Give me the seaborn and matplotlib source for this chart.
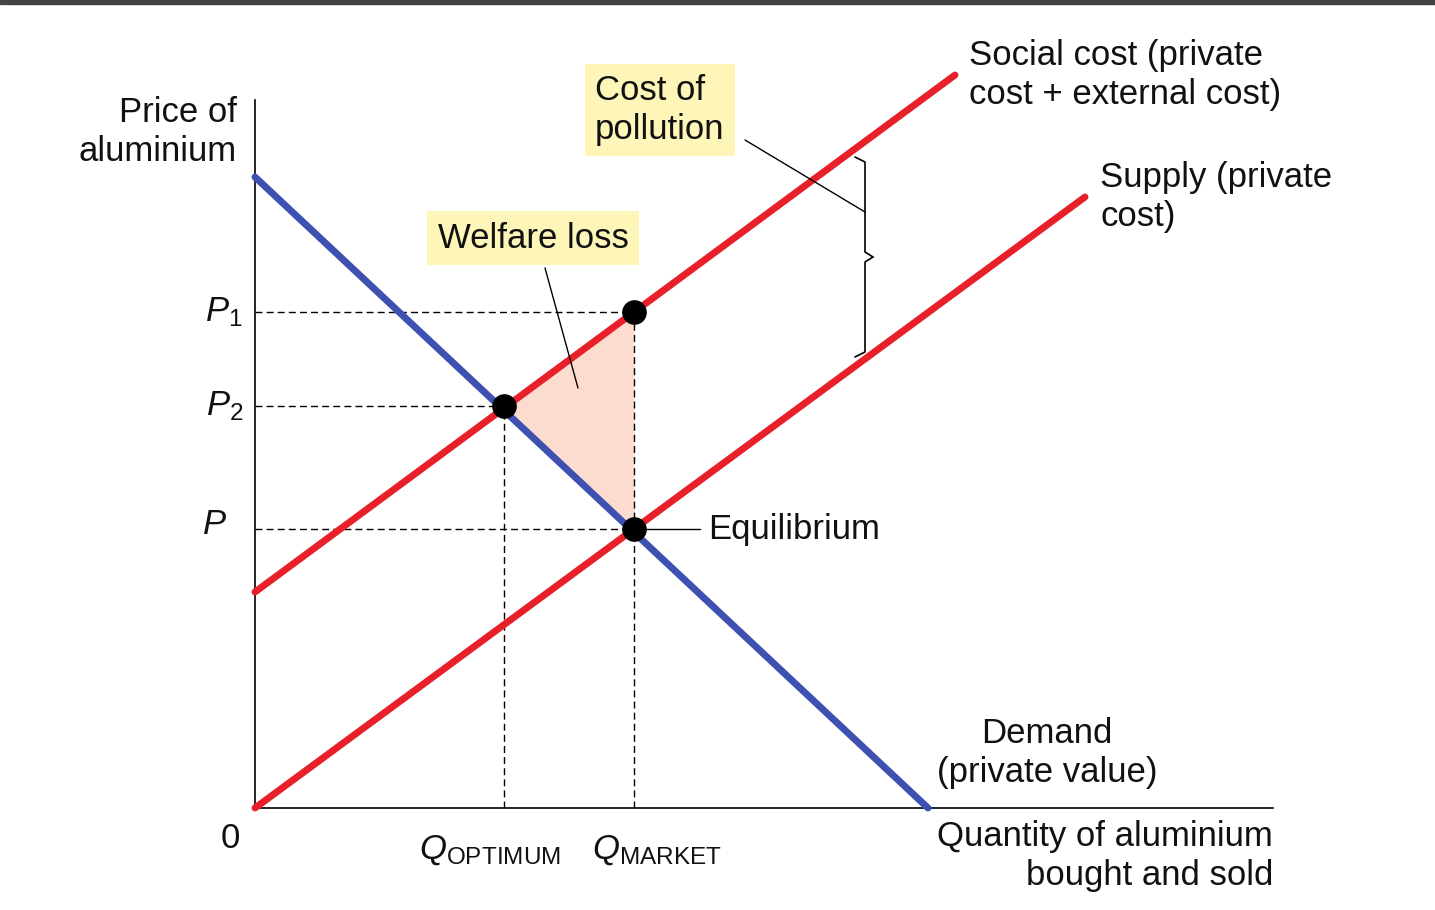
import matplotlib
matplotlib.use("Agg")
import matplotlib.pyplot as plt
import seaborn as sns
import numpy as np
import pandas as pd

sns.set_theme(style="white")
plt.rcParams['font.family'] = ['Liberation Sans', 'DejaVu Sans']
plt.rcParams['mathtext.fontset'] = 'custom'
plt.rcParams['mathtext.rm'] = 'Liberation Sans'
plt.rcParams['mathtext.it'] = 'Liberation Sans:italic'
plt.rcParams['text.color'] = '#111111'

# Data (diagram units)
demand_x = [0, 673]; demand_y = [631, 0]
supply_x = [0, 830]; supply_y = [0, 611]
social_x = [0, 700]; social_y = [216, 733]
q_opt, q_mkt = 249, 379
p_eq, p2, p1 = 279, 402, 496

W, H = 1435, 910
fig = plt.figure(figsize=(W/100, H/100), dpi=100)
ax = fig.add_axes([255/W, (H-808)/H, 1018/W, 708/H])
ax.set_xlim(0, 1018); ax.set_ylim(0, 708)
for s in ['top', 'right']:
    ax.spines[s].set_visible(False)
for s in ['left', 'bottom']:
    ax.spines[s].set_color('black'); ax.spines[s].set_linewidth(1.2)
ax.set_xticks([]); ax.set_yticks([])

ax.fill([q_opt, q_mkt, q_mkt], [p2, p1, p_eq], color='#fbdccf', zorder=1)

kw = dict(color='black', lw=1, ls=(0, (5, 3)), zorder=2)
ax.plot([0, q_mkt], [p1, p1], **kw)
ax.plot([0, q_opt], [p2, p2], **kw)
ax.plot([0, q_mkt], [p_eq, p_eq], **kw)
ax.plot([q_opt, q_opt], [0, p2], **kw)
ax.plot([q_mkt, q_mkt], [0, p1], **kw)

df = pd.DataFrame({'x': demand_x + supply_x + social_x,
                   'y': demand_y + supply_y + social_y,
                   'curve': ['Demand']*2 + ['Supply']*2 + ['Social']*2})
sns.lineplot(data=df, x='x', y='y', hue='curve',
             palette={'Demand': '#3f51b0', 'Supply': '#e8202a', 'Social': '#e8202a'},
             lw=5, legend=False, ax=ax, zorder=3, clip_on=False)
ax.set_xlabel(''); ax.set_ylabel('')

ax.scatter([q_opt, q_mkt, q_mkt], [p2, p1, p_eq], s=280, color='black', zorder=5, clip_on=False)

fs = 25
ls = 1.22
ax.text(-18, 676, 'Price of\naluminium', ha='right', va='center', fontsize=fs, linespacing=ls)
ax.text(-12, p1, '$P_1$', ha='right', va='center', fontsize=fs)
ax.text(-12, p2, '$P_2$', ha='right', va='center', fontsize=fs)
ax.text(-28, p_eq+4, '$P$', ha='right', va='center', fontsize=fs)
ax.text(-25, -30, '0', ha='center', va='center', fontsize=fs)
ax.text(235, -42, r'$Q_{\mathrm{OPTIMUM}}$', ha='center', va='center', fontsize=fs)
ax.text(402, -42, r'$Q_{\mathrm{MARKET}}$', ha='center', va='center', fontsize=fs)
ax.text(1018, -12, 'Quantity of aluminium\nbought and sold', ha='right', va='top', fontsize=fs, linespacing=ls)
ax.text(792, 55, 'Demand\n(private value)', ha='center', va='center', fontsize=fs, linespacing=ls)
ax.plot([q_mkt, 445], [p_eq, p_eq], color='black', lw=1, zorder=4)
ax.text(453, p_eq, 'Equilibrium', ha='left', va='center', fontsize=fs)
ax.text(714, 733, 'Social cost (private\ncost + external cost)', ha='left', va='center', fontsize=fs, linespacing=ls)
ax.text(845, 611, 'Supply (private\ncost)', ha='left', va='center', fontsize=fs, linespacing=ls)
ax.text(340, 698, 'Cost of\npollution', ha='left', va='center', fontsize=fs, linespacing=ls,
        bbox=dict(boxstyle='square,pad=0.3', fc='#fdf6b8', ec='none'), zorder=6)
ax.text(278, 570, 'Welfare loss', ha='center', va='center', fontsize=fs,
        bbox=dict(boxstyle='square,pad=0.3', fc='#fdf6b8', ec='none'), zorder=6)

ax.plot([490, 610], [668, 596], color='black', lw=1, zorder=4)
ax.plot([290, 323], [540, 420], color='black', lw=1, zorder=4)

bx = 610
ax.plot([bx-10, bx, bx, bx+8], [651, 646, 556, 551], color='black', lw=1.2, zorder=4)
ax.plot([bx+8, bx, bx, bx-10], [551, 546, 456, 451], color='black', lw=1.2, zorder=4)

fig.patches.append(plt.Rectangle((0, 1-4/H), 1, 4/H, transform=fig.transFigure, color='#444444'))

fig.savefig('out.png', dpi=100)
